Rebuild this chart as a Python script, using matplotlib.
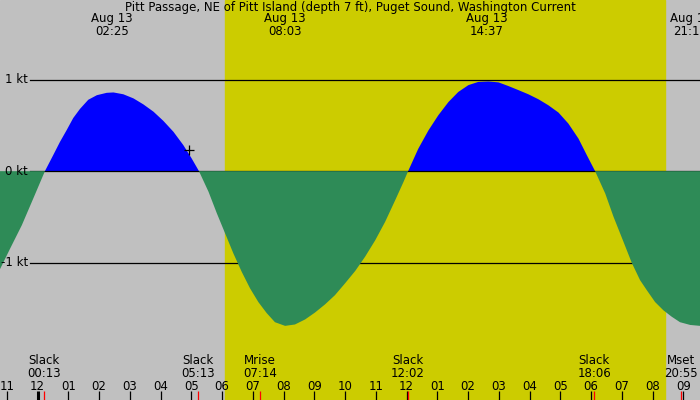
import matplotlib
matplotlib.use("Agg")
import matplotlib.pyplot as plt
import matplotlib.transforms as mtransforms
import numpy as np

# hours after midnight Aug 13, current in knots (flood +, ebb -)
hours = [-1.22, -1.16, -0.89, -0.51, -0.14, 0.24,
         0.51, 0.73, 0.95, 1.16, 1.38, 1.65, 1.93, 2.25, 2.47, 2.79, 3.12, 3.44, 3.77,
         4.09, 4.42, 4.74, 5.01, 5.25,
         5.56, 5.83, 6.10, 6.37, 6.64, 6.91, 7.18, 7.45, 7.72, 8.05, 8.37, 8.70, 9.02,
         9.35, 9.67, 10.00, 10.33, 10.65, 10.98, 11.30, 11.63, 11.90, 12.05,
         12.38, 12.71, 13.03, 13.36, 13.68, 14.01, 14.33, 14.66, 14.99, 15.31, 15.64,
         15.96, 16.29, 16.61, 16.94, 17.26, 17.59, 17.86, 18.13,
         18.46, 18.73, 19.05, 19.32, 19.59, 19.81, 20.08, 20.35, 20.62, 20.89, 21.22, 21.54]
knots = [-1.07, -1.03, -0.845, -0.59, -0.30, 0.00,
         0.175, 0.32, 0.45, 0.58, 0.68, 0.78, 0.83, 0.856, 0.86, 0.84, 0.795, 0.73, 0.65,
         0.55, 0.43, 0.285, 0.14, 0.00,
         -0.225, -0.46, -0.68, -0.90, -1.10, -1.28, -1.43, -1.55, -1.65, -1.69, -1.675, -1.62, -1.545,
         -1.455, -1.355, -1.225, -1.09, -0.935, -0.755, -0.555, -0.317, -0.117, 0.00,
         0.245, 0.445, 0.61, 0.755, 0.865, 0.94, 0.975, 0.98, 0.97, 0.93, 0.885,
         0.84, 0.785, 0.72, 0.64, 0.52, 0.355, 0.175, 0.00,
         -0.245, -0.50, -0.77, -1.00, -1.19, -1.30, -1.43, -1.52, -1.59, -1.65, -1.68, -1.69]

title = "Pitt Passage, NE of Pitt Island (depth 7 ft), Puget Sound, Washington Current"

peak_times = [2.417, 8.05, 14.617, 21.233]
peak_labels = ["02:25", "08:03", "14:37", "21:14"]
peak_date = "Aug 13"

event_times = [0.217, 5.217, 7.233, 12.033, 18.10, 20.917]
event_names = ["Slack", "Slack", "Mrise", "Slack", "Slack", "Mset"]
event_labels = ["00:13", "05:13", "07:14", "12:02", "18:06", "20:55"]

sunrise = 6.10
sunset = 20.41
now_time, now_value = 4.93, 0.23

kt_levels = [1, 0, -1]
kt_labels = ["1 kt", "0 kt", "-1 kt"]

x0, x1 = -1.22, 21.54
y0, y1 = -2.50, 1.87

plt.rcParams['font.family'] = ['DejaVu Sans']
fs = 8.5

fig = plt.figure(figsize=(7, 4), dpi=100)
ax = fig.add_axes([0, 0, 1, 1])
ax.set_xlim(x0, x1)
ax.set_ylim(y0, y1)
ax.axis('off')
ax.add_patch(plt.Rectangle((0, 0), 1, 1, transform=ax.transAxes, color='#c0c0c0', zorder=0))
ax.axvspan(sunrise, sunset, color='#cccc00', zorder=1)

for lv in [1, -1]:
    ax.axhline(lv, xmin=0.043, xmax=1, color='black', lw=0.9, zorder=2)

h = np.array(hours)
k = np.array(knots)
ax.fill_between(h, 0, k, where=k >= 0, color='#0000ff', lw=0, zorder=3, interpolate=True)
ax.axhline(0, xmin=0.043, xmax=1, color='black', lw=0.9, zorder=3.5)
ax.fill_between(h, 0, k, where=k <= 0, color='#2e8b57', lw=0, zorder=4, interpolate=True)

ax.plot([now_time], [now_value], marker='+', color='black', ms=7, mew=0.9, zorder=5)

trans = mtransforms.blended_transform_factory(ax.transData, ax.transAxes)
transy = mtransforms.blended_transform_factory(ax.transAxes, ax.transData)

for lv, lb in zip(kt_levels, kt_labels):
    ax.text(0.04, lv, lb, transform=transy, ha='right', va='center', fontsize=fs, zorder=6)

ax.text(0.5, 0.982, title, transform=ax.transAxes, ha='center', va='center', fontsize=fs, zorder=6)
for t, lb in zip(peak_times, peak_labels):
    ax.text(t, 0.953, peak_date, transform=trans, ha='center', va='center', fontsize=fs, zorder=6)
    ax.text(t, 0.922, lb, transform=trans, ha='center', va='center', fontsize=fs, zorder=6)

# hour ticks along the bottom
for hr in range(-1, 22):
    lab = "%02d" % ((hr % 12) or 12)
    ax.text(hr, 0.035, lab, transform=trans, ha='center', va='center', fontsize=fs, zorder=6)
    lw = 2.2 if hr == 0 else 0.9
    ax.plot([hr, hr], [0, 0.022], transform=trans, color='black', lw=lw, zorder=6,
            solid_capstyle='butt')

for t, nm, lb in zip(event_times, event_names, event_labels):
    ax.text(t, 0.098, nm, transform=trans, ha='center', va='center', fontsize=fs, zorder=6)
    ax.text(t, 0.067, lb, transform=trans, ha='center', va='center', fontsize=fs, zorder=6)
    ax.plot([t, t], [0, 0.022], transform=trans, color='red', lw=0.9, zorder=6,
            solid_capstyle='butt')

fig.savefig("out.png", dpi=100)
